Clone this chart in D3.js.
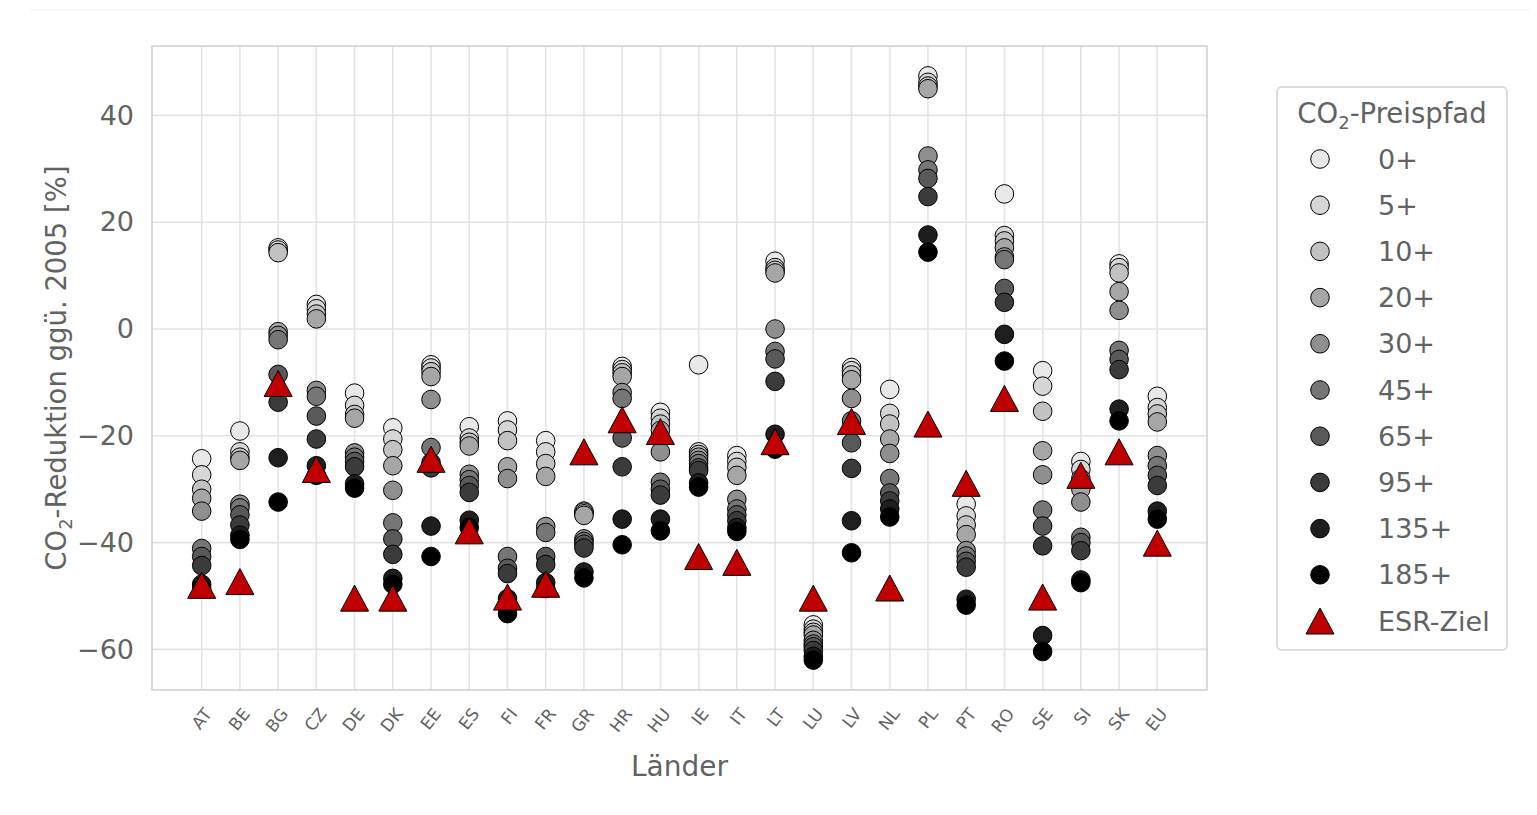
<!DOCTYPE html>
<html><head><meta charset="utf-8">
<script src="https://cdn.jsdelivr.net/npm/d3@7/dist/d3.min.js"></script>
<style>body{margin:0;background:#fff}svg{display:block}text{font-family:"DejaVu Sans",sans-serif;fill:#5f6462}</style>
</head><body><svg id="c" width="1537" height="815"></svg>
<script>
const countries = ["AT","BE","BG","CZ","DE","DK","EE","ES","FI","FR","GR","HR","HU","IE","IT","LT","LU","LV","NL","PL","PT","RO","SE","SI","SK","EU"];
const pathLabels = ["0+","5+","10+","20+","30+","45+","65+","95+","135+","185+"];
const pathColors = ["#e8e8e8","#d6d6d6","#c2c2c2","#a6a6a6","#8f8f8f","#767676","#595959","#3b3b3b","#1e1e1e","#000000"];
// values per price path, one per country (same order as countries)
const p0   = [-24.3,-19.1,15.2,4.6,-12.0,-18.5,-6.7,-18.3,-17.2,-20.9,-34.1,-7.0,-15.6,-6.7,-23.7,12.7,-55.4,-7.2,-11.3,47.4,-32.8,25.3,-7.8,-24.8,12.2,-12.6];
const p5   = [-27.3,-23.0,14.8,3.8,-14.3,-20.6,-7.3,-20.4,-18.9,-23.0,-34.3,-7.6,-16.7,-23.0,-24.8,11.5,-56.2,-7.8,-15.8,46.2,-35.0,17.5,-10.7,-26.3,11.5,-14.7];
const p10  = [-30.0,-24.0,14.3,2.8,-16.0,-22.6,-8.0,-21.2,-20.9,-25.2,-34.6,-8.2,-17.8,-23.5,-25.9,11.0,-56.8,-8.6,-17.8,45.5,-36.7,16.5,-15.4,-28.0,10.5,-15.9];
const p20  = [-31.7,-24.6,-0.5,1.9,-16.7,-25.6,-8.9,-21.9,-25.8,-27.6,-34.9,-8.9,-19.0,-24.0,-27.4,10.5,-57.3,-9.5,-20.6,45.0,-38.5,15.2,-22.8,-30.0,7.0,-17.4];
const p30  = [-34.1,-32.8,-1.2,-11.5,-23.2,-30.2,-13.2,-27.2,-28.0,-37.0,-39.3,-11.9,-23.0,-24.6,-31.9,0.0,-58.3,-13.0,-23.3,32.4,-41.5,13.5,-27.3,-32.4,3.5,-23.7];
const p45  = [-41.1,-33.5,-2.0,-12.6,-24.0,-36.3,-22.2,-28.2,-42.6,-38.1,-39.8,-13.0,-28.7,-25.2,-33.7,-4.2,-59.0,-17.2,-28.0,29.8,-42.5,13.0,-33.9,-39.0,-4.0,-25.6];
const p65  = [-42.6,-34.8,-8.5,-16.3,-24.8,-39.3,-25.0,-29.3,-44.8,-42.6,-40.3,-20.4,-30.0,-26.0,-34.8,-5.6,-59.5,-21.3,-30.7,28.2,-43.5,7.6,-36.9,-40.0,-5.7,-27.4];
const p95  = [-44.3,-36.7,-13.7,-20.6,-25.8,-42.2,-26.0,-30.6,-45.8,-44.1,-41.0,-25.8,-31.1,-26.5,-35.9,-9.8,-60.2,-26.1,-32.2,24.8,-44.6,5.0,-40.6,-41.5,-7.6,-29.3];
const p135 = [-47.8,-38.6,-24.1,-25.6,-29.0,-46.7,-36.9,-35.8,-50.5,-47.5,-45.5,-35.6,-35.6,-28.8,-37.2,-19.7,-61.3,-35.9,-33.7,17.6,-50.6,-1.0,-57.4,-47.0,-15.0,-34.1];
const p185 = [-48.5,-39.4,-32.4,-27.4,-29.8,-47.8,-42.6,-37.2,-53.3,-48.6,-46.6,-40.4,-37.8,-29.6,-37.9,-22.5,-62.0,-41.9,-35.2,14.4,-51.7,-6.0,-60.4,-47.5,-17.2,-35.6];
const esrTarget = [-48.0,-47.3,-10.2,-26.3,-50.4,-50.4,-24.4,-37.8,-50.2,-47.8,-23.0,-17.0,-19.2,-42.6,-43.7,-21.1,-50.4,-17.3,-48.5,-17.8,-28.9,-13.0,-50.2,-27.4,-23.0,-40.1];
const yTicks = [40,20,0,-20,-40,-60];
const series = [p0,p5,p10,p20,p30,p45,p65,p95,p135,p185];

const svg = d3.select("#c");
const L=152, R=1207, T=46, B=690;
const x = d3.scaleLinear().domain([-1.3, countries.length-1+1.3]).range([L,R]);
const y = d3.scaleLinear().domain([-67.6, 53]).range([B,T]);

svg.append("line").attr("x1",30).attr("x2",1530).attr("y1",10).attr("y2",10).attr("stroke","#f0f0f0").attr("stroke-width",1);

const g = svg.append("g");
// grid
g.selectAll(".gy").data(yTicks).join("line").attr("x1",L).attr("x2",R)
 .attr("y1",d=>y(d)).attr("y2",d=>y(d)).attr("stroke","#e3e3e3").attr("stroke-width",1.6);
g.selectAll(".gx").data(countries).join("line").attr("y1",T).attr("y2",B)
 .attr("x1",(d,i)=>x(i)).attr("x2",(d,i)=>x(i)).attr("stroke","#e3e3e3").attr("stroke-width",1.6);
g.append("rect").attr("x",L).attr("y",T).attr("width",R-L).attr("height",B-T)
 .attr("fill","none").attr("stroke","#d0d0d0").attr("stroke-width",1.6);

// y tick labels
const yAxis = d3.axisLeft(y).tickValues(yTicks).tickSize(0).tickPadding(18)
  .tickFormat(d=>d<0?"\u2212"+Math.abs(d):d);
const ya = svg.append("g").attr("transform",`translate(${L},0)`).call(yAxis);
ya.select(".domain").remove();
ya.selectAll("text").attr("font-size",27).attr("fill","#5f6462").style("font-family","'DejaVu Sans',sans-serif");

// x tick labels
const xa = svg.append("g");
xa.selectAll("text").data(countries).join("text")
 .attr("transform",(d,i)=>`translate(${x(i)+7},${711}) rotate(-52)`)
 .attr("text-anchor","end").attr("dominant-baseline","middle").attr("font-size",17).text(d=>d);

// axis titles
svg.append("text").attr("x",(L+R)/2).attr("y",776).attr("text-anchor","middle").attr("font-size",28).text("Länder");
const yt = svg.append("text").attr("transform",`translate(66,${(T+B)/2}) rotate(-90)`).attr("text-anchor","middle").attr("font-size",27.5);
yt.append("tspan").text("CO");
yt.append("tspan").attr("font-size",18).attr("dy",6).text("2");
yt.append("tspan").attr("dy",-6).text("-Reduktion ggü. 2005 [%]");

// points
const triPath = "M0,-13L14,13L-14,13Z";
series.forEach((s,k)=>{
  g.selectAll(".s"+k).data(s).join("circle")
   .attr("cx",(d,i)=>x(i)).attr("cy",d=>y(d)).attr("r",9.3)
   .attr("fill",pathColors[k]).attr("stroke","#000").attr("stroke-width",1);
});
g.selectAll(".esr").data(esrTarget).join("path").attr("d",triPath)
 .attr("transform",(d,i)=>`translate(${x(i)},${y(d)})`)
 .attr("fill","#c00000").attr("stroke","#000").attr("stroke-width",1);

// legend
const lg = svg.append("g");
lg.append("rect").attr("x",1277).attr("y",87).attr("width",230).attr("height",563).attr("rx",5)
 .attr("fill","#fff").attr("stroke","#dcdcdc").attr("stroke-width",2);
const lt = lg.append("text").attr("x",1392).attr("y",123).attr("text-anchor","middle").attr("font-size",27.5);
lt.append("tspan").text("CO");
lt.append("tspan").attr("font-size",18).attr("dy",6).text("2");
lt.append("tspan").attr("dy",-6).text("-Preispfad");
const rowY = i=>159+i*46.2;
pathLabels.forEach((lab,k)=>{
  lg.append("circle").attr("cx",1320).attr("cy",rowY(k)).attr("r",9.3)
    .attr("fill",pathColors[k]).attr("stroke","#000").attr("stroke-width",1);
  lg.append("text").attr("x",1378).attr("y",rowY(k)).attr("dominant-baseline","central").attr("font-size",27).text(lab);
});
lg.append("path").attr("d",triPath).attr("transform",`translate(1320,${rowY(10)})`)
  .attr("fill","#c00000").attr("stroke","#000").attr("stroke-width",1);
lg.append("text").attr("x",1378).attr("y",rowY(10)).attr("dominant-baseline","central").attr("font-size",27).text("ESR-Ziel");
</script></body></html>
